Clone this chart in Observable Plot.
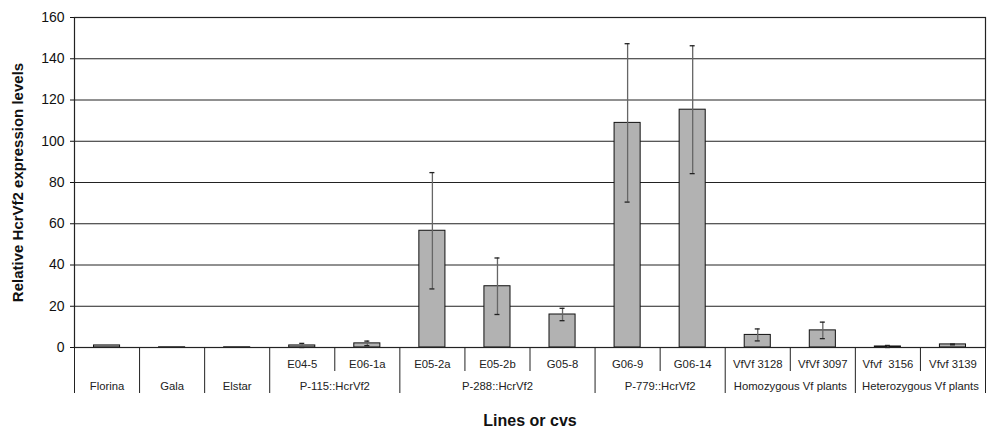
<!DOCTYPE html>
<html>
<head>
<meta charset="utf-8">
<script src="https://cdn.jsdelivr.net/npm/d3@7"></script>
<script src="https://cdn.jsdelivr.net/npm/@observablehq/plot@0.6"></script>
<style>
  body { margin: 0; background: #fff; }
  #chart svg { display: block; }
</style>
</head>
<body>
<div id="chart"></div>
<script>
// ---- data ----
const categories = ["Florina", "Gala", "Elstar", "E04-5", "E06-1a", "E05-2a", "E05-2b", "G05-8", "G06-9", "G06-14", "VfVf 3128", "VfVf 3097", "Vfvf  3156", "Vfvf 3139"];
const values = [1.0, 0.1, 0.1, 1.0, 2.0, 56.6, 29.7, 16.0, 108.9, 115.3, 6.1, 8.3, 0.5, 1.5];
const errors = [0, 0, 0, 1.0, 1.1, 28.2, 13.7, 3.0, 38.4, 31.0, 2.9, 4.0, 0.5, 0.2];
const groupNames = ["Florina", "Gala", "Elstar", "P-115::HcrVf2", "P-288::HcrVf2", "P-779::HcrVf2", "Homozygous Vf plants", "Heterozygous Vf plants"];
const groupSizes = [1, 1, 1, 2, 3, 2, 2, 2];
const yTicks = [0, 20, 40, 60, 80, 100, 120, 140, 160];
const yTitle = "Relative HcrVf2 expression levels";
const xTitle = "Lines or cvs";

// ---- derived tables ----
const rows = categories.map((c, i) => ({i, c, v: values[i], e: errors[i]}));
const groups = [];
let start = 0;
groupNames.forEach((g, k) => {
  groups.push({name: g, start, end: start + groupSizes[k], n: groupSizes[k]});
  start += groupSizes[k];
});
const subLabels = [];
const fullDividers = [0];
const shortDividers = [];
groups.forEach(g => {
  fullDividers.push(g.end);
  if (g.n > 1) {
    for (let i = g.start; i < g.end; i++) subLabels.push(rows[i]);
    for (let i = g.start + 1; i < g.end; i++) shortDividers.push(i);
  }
});
const errRows = rows.filter(d => d.e > 0);

const font = "Liberation Sans, Arial, Helvetica, sans-serif";

const chart = Plot.plot({
  width: 988,
  height: 432,
  marginLeft: 74,
  marginRight: 3,
  marginTop: 17,
  marginBottom: 85,
  style: {fontFamily: font, color: "#111", background: "#fff"},
  x: {domain: [0, categories.length], axis: null},
  y: {domain: [0, 160], axis: null},
  marks: [
    Plot.ruleY(yTicks, {stroke: "#222", strokeWidth: 1}),
    Plot.rectY(rows, {x1: "i", x2: d => d.i + 1, y: "v", insetLeft: 19.5, insetRight: 19.5, fill: "#b2b2b2", stroke: "#111", strokeWidth: 1}),
    Plot.ruleX(errRows, {x: d => d.i + 0.5, y1: d => Math.max(0, d.v - d.e), y2: d => d.v + d.e, stroke: "#666", strokeWidth: 1.3}),
    Plot.ruleY(errRows, {y: d => d.v + d.e, x1: d => d.i + 0.5, x2: d => d.i + 0.5, insetLeft: -2.5, insetRight: -2.5, stroke: "#222", strokeWidth: 1.3}),
    Plot.ruleY(errRows, {y: d => Math.max(0, d.v - d.e), x1: d => d.i + 0.5, x2: d => d.i + 0.5, insetLeft: -2.5, insetRight: -2.5, stroke: "#222", strokeWidth: 1.3}),
    Plot.frame({stroke: "#222", strokeWidth: 1.2}),
    Plot.axisY({ticks: yTicks, tickSize: 4, tickPadding: 6, fontSize: 14, label: null, tickFormat: d => String(d)}),
    // table-like category axis
    Plot.ruleX(fullDividers, {x: d => d, y1: 0, y2: 0, insetBottom: -46, stroke: "#222"}),
    Plot.ruleX(shortDividers, {x: d => d, y1: 0, y2: 0, insetBottom: -24, stroke: "#222"}),
    Plot.text(subLabels, {x: d => d.i + 0.5, y: 0, dy: 17, text: "c", fontSize: 11.3, fill: "#222"}),
    Plot.text(groups, {x: d => (d.start + d.end) / 2, y: 0, dy: 38.5, text: "name", fontSize: 11.3, fill: "#222"}),
    Plot.text([xTitle], {frameAnchor: "bottom", dy: 73, lineAnchor: "middle", fontSize: 16, fontWeight: "bold", fill: "#111"}),
    Plot.text([yTitle], {frameAnchor: "left", dx: -56, rotate: -90, textAnchor: "middle", fontSize: 15, fontWeight: "bold", fill: "#111"})
  ]
});
document.getElementById("chart").appendChild(chart);
</script>
</body>
</html>
